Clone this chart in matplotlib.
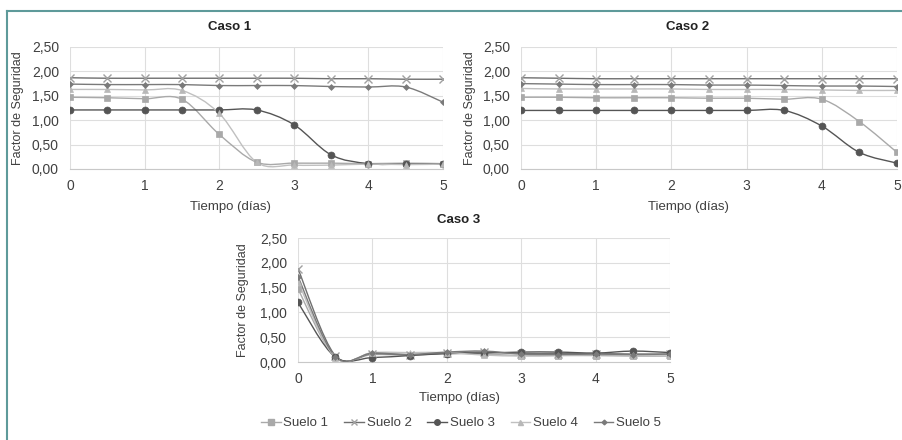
"""
Factor de seguridad vs tiempo para tres casos y cinco suelos.
"""

import matplotlib
matplotlib.use("Agg")
import matplotlib.pyplot as plt
from matplotlib.path import Path
from matplotlib.patches import PathPatch
from matplotlib.lines import Line2D
from matplotlib.ticker import FuncFormatter

plt.rcParams["font.family"] = ["Liberation Sans", "DejaVu Sans"]

tiempo = [0, 0.5, 1, 1.5, 2, 2.5, 3, 3.5, 4, 4.5, 5]
suelos = ["Suelo 1", "Suelo 2", "Suelo 3", "Suelo 4", "Suelo 5"]

caso1_s1 = [1.47, 1.46, 1.44, 1.43, 0.71, 0.14, 0.12, 0.12, 0.11, 0.12, 0.11]
caso1_s2 = [1.87, 1.86, 1.86, 1.86, 1.86, 1.86, 1.86, 1.85, 1.85, 1.84, 1.84]
caso1_s3 = [1.21, 1.21, 1.21, 1.21, 1.21, 1.21, 0.91, 0.29, 0.11, 0.10, 0.10]
caso1_s4 = [1.63, 1.63, 1.62, 1.61, 1.14, 0.14, 0.08, 0.08, 0.10, 0.09, 0.10]
caso1_s5 = [1.74, 1.73, 1.73, 1.73, 1.71, 1.71, 1.71, 1.69, 1.68, 1.68, 1.37]

caso2_s1 = [1.47, 1.47, 1.46, 1.46, 1.46, 1.45, 1.45, 1.43, 1.43, 0.97, 0.34]
caso2_s2 = [1.87, 1.86, 1.85, 1.85, 1.85, 1.85, 1.85, 1.85, 1.85, 1.85, 1.85]
caso2_s3 = [1.20, 1.20, 1.20, 1.20, 1.20, 1.20, 1.20, 1.20, 0.88, 0.34, 0.12]
caso2_s4 = [1.65, 1.64, 1.64, 1.64, 1.64, 1.63, 1.63, 1.63, 1.62, 1.61, 1.61]
caso2_s5 = [1.75, 1.74, 1.73, 1.73, 1.73, 1.72, 1.72, 1.71, 1.70, 1.70, 1.69]

caso3_s1 = [1.47, 0.10, 0.15, 0.14, 0.17, 0.16, 0.13, 0.13, 0.13, 0.12, 0.12]
caso3_s2 = [1.88, 0.13, 0.17, 0.15, 0.18, 0.20, 0.17, 0.17, 0.17, 0.16, 0.16]
caso3_s3 = [1.20, 0.10, 0.09, 0.13, 0.17, 0.18, 0.20, 0.20, 0.18, 0.22, 0.19]
caso3_s4 = [1.62, 0.09, 0.19, 0.19, 0.19, 0.14, 0.12, 0.13, 0.15, 0.14, 0.15]
caso3_s5 = [1.72, 0.11, 0.18, 0.15, 0.20, 0.22, 0.16, 0.15, 0.16, 0.15, 0.16]

casos = {
    "Caso 1": [caso1_s1, caso1_s2, caso1_s3, caso1_s4, caso1_s5],
    "Caso 2": [caso2_s1, caso2_s2, caso2_s3, caso2_s4, caso2_s5],
    "Caso 3": [caso3_s1, caso3_s2, caso3_s3, caso3_s4, caso3_s5],
}

# line colour, marker, marker colour, marker size
estilos = [
    ("#a9a9a9", "s", "#a9a9a9", 5),
    ("#6f6f6f", "x", "#a0a0a0", 5.5),
    ("#555555", "o", "#555555", 5),
    ("#c0c0c0", "^", "#b8b8b8", 4.5),
    ("#7a7a7a", "D", "#7a7a7a", 3),
]

W, H = 902, 440


def smooth_path(x, y):
    """Excel-style smoothed line as cubic Bezier segments."""
    n = len(x)
    verts = [(x[0], y[0])]
    codes = [Path.MOVETO]
    for i in range(n - 1):
        x0, y0 = x[max(i - 1, 0)], y[max(i - 1, 0)]
        x3, y3 = x[min(i + 2, n - 1)], y[min(i + 2, n - 1)]
        c1 = (x[i] + (x[i + 1] - x0) / 6, y[i] + (y[i + 1] - y0) / 6)
        c2 = (x[i + 1] - (x3 - x[i]) / 6, y[i + 1] - (y3 - y[i]) / 6)
        verts += [c1, c2, (x[i + 1], y[i + 1])]
        codes += [Path.CURVE4] * 3
    return Path(verts, codes)


def px_axes(fig, left, right, top, bottom):
    return fig.add_axes([left / W, 1 - bottom / H, (right - left) / W, (bottom - top) / H])


def draw_case(fig, ax, name, series, text_x, title_y, xlab_y, ylab_x):
    for vals, (lc, mk, mc, ms) in zip(series, estilos):
        ax.add_patch(PathPatch(smooth_path(tiempo, vals), facecolor="none",
                               edgecolor=lc, lw=1.0, zorder=3))
        ax.plot(tiempo, vals, linestyle="none", marker=mk, color=mc,
                markersize=ms, markeredgewidth=1.0 if mk == "x" else 0.5, zorder=4)
    ax.set_xlim(0, 5)
    ax.set_ylim(0, 2.5)
    ax.set_xticks(range(6))
    ax.set_yticks([0, 0.5, 1.0, 1.5, 2.0, 2.5])
    ax.yaxis.set_major_formatter(FuncFormatter(lambda v, p: f"{v:.2f}".replace(".", ",")))
    ax.grid(True, color="#dedede", lw=0.8)
    ax.set_axisbelow(True)
    for s in ["top", "right", "left"]:
        ax.spines[s].set_visible(False)
    ax.spines["bottom"].set_color("#c8c8c8")
    ax.tick_params(length=0, labelsize=10, colors="#404040", pad=7)
    ax.tick_params(axis="y", pad=8)
    bb = ax.get_position()
    fig.text(text_x / W, 1 - title_y / H, name, ha="center", va="center",
             fontsize=9.5, fontweight="bold", color="#222222")
    fig.text(text_x / W, 1 - xlab_y / H, "Tiempo (días)", ha="center",
             va="center", fontsize=9.5, color="#404040")
    fig.text(ylab_x / W, bb.y0 + bb.height / 2, "Factor de Seguridad", ha="center",
             va="center", rotation=90, fontsize=9, color="#404040")


fig = plt.figure(figsize=(W / 100, H / 100), dpi=100)

ax1 = px_axes(fig, 70, 443, 47, 169)
ax2 = px_axes(fig, 521, 897, 47, 169)
ax3 = px_axes(fig, 298, 670, 238, 362)

draw_case(fig, ax1, "Caso 1", casos["Caso 1"], 230, 27, 207, 18)
draw_case(fig, ax2, "Caso 2", casos["Caso 2"], 688, 27, 207, 470)
draw_case(fig, ax3, "Caso 3", casos["Caso 3"], 459, 220, 398, 243)

handles = [Line2D([0], [0], color=lc, lw=1.0, marker=mk, markerfacecolor=mc,
                  markeredgecolor=mc, markersize=ms * 0.8)
           for lc, mk, mc, ms in estilos]
fig.legend(handles, suelos, loc="center", bbox_to_anchor=(461 / W, 1 - 423 / H),
           ncol=5, frameon=False, fontsize=9.5, handlelength=1.5, handletextpad=0.2,
           columnspacing=1.2, labelcolor="#404040")

# teal frame from the original layout
fig.add_artist(Line2D([6.5 / W, 6.5 / W], [0, 1 - 11 / H], color="#5e9a9a", lw=1.5))
fig.add_artist(Line2D([6.5 / W, 1], [1 - 11 / H, 1 - 11 / H], color="#5e9a9a", lw=1.5))

fig.savefig("out.png", dpi=100)
